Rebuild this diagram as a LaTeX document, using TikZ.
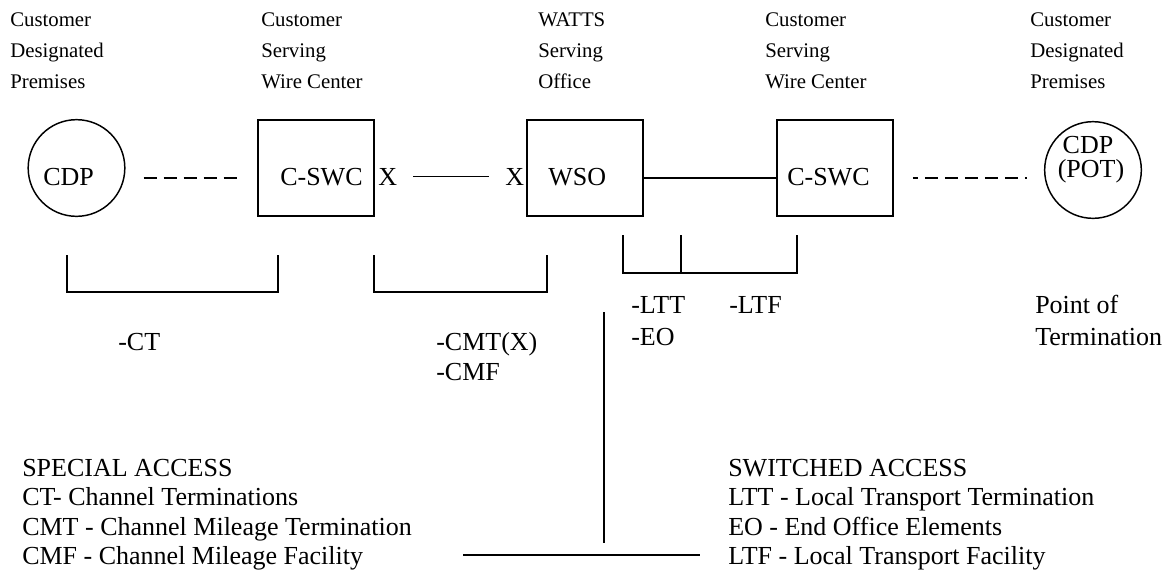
\documentclass[tikz,border=0pt]{standalone}
\usepackage{fontspec}
\setmainfont{Liberation Serif}
\begin{document}
\begin{tikzpicture}[x=0.75pt,y=-0.75pt,
  toplbl/.style={font=\fontsize{15.6}{23}\selectfont, anchor=base west, inner sep=0pt},
  txt/.style={font=\fontsize{19.5}{23}\selectfont, anchor=base west, inner sep=0pt},
  ctxt/.style={font=\fontsize{19.5}{23}\selectfont, anchor=base, inner sep=0pt},
  office/.style={draw, line width=1.3pt, minimum width=87pt, minimum height=72pt, inner sep=0pt},
  prem/.style={draw, circle, line width=1.1pt, minimum size=72.5pt, inner sep=0pt},
  wire/.style={line width=1.1pt},
  dashwire/.style={line width=1.1pt, dash pattern=on 9.75pt off 5.25pt},
  brk/.style={line width=1.3pt},
]
\useasboundingbox (0,0) rectangle (1164,576);

% top labels
\node[toplbl] (a1) at (10,26.7) {Customer};
\node[toplbl] (a2) at (10,57) {Designated};
\node[toplbl] (a3) at (10,88) {Premises};
\node[toplbl] (b1) at (261,26.7) {Customer};
\node[toplbl] (b2) at (261,57) {Serving};
\node[toplbl] (b3) at (261,88) {Wire Center};
\node[toplbl] (c1) at (538,26.7) {WATTS};
\node[toplbl] (c2) at (538,57) {Serving};
\node[toplbl] (c3) at (538,88) {Office};
\node[toplbl] (d1) at (765,26.7) {Customer};
\node[toplbl] (d2) at (765,57) {Serving};
\node[toplbl] (d3) at (765,88) {Wire Center};
\node[toplbl] (e1) at (1030,26.7) {Customer};
\node[toplbl] (e2) at (1030,57) {Designated};
\node[toplbl] (e3) at (1030,88) {Premises};

% shapes
\node[prem] (cdpL) at (76.5,168) {};
\node[office] (cswcL) at (316,168) {};
\node[office] (wso) at (585,168) {};
\node[office] (cswcR) at (835,168) {};
\node[prem] (cdpR) at (1093,170) {};

% texts in shapes
\node[txt] (tcdpL) at (43,185) {CDP};
\node[txt] (tcswcL) at (280,185) {C-SWC};
\node[txt] (xa) at (378,185) {X};
\node[txt] (xb) at (505,185) {X};
\node[txt] (twso) at (548,185) {WSO};
\node[txt] (tcswcR) at (787,185) {C-SWC};
\node[ctxt] (tcdpR) at (1088,153) {CDP};
\node[ctxt] (tpot) at (1091,177) {(POT)};

% connectors
\draw[dashwire] ([shift={(18,10)}]cdpL.east) -- ([shift={(-18,10)}]cswcL.west);
\draw[wire, shorten <=12pt, shorten >=12pt] (xa.east) -- (xb.west);
\draw[wire] ([yshift=-7.5pt]wso.east) -- ([yshift=-7.5pt]cswcR.west);
\draw[dashwire, dash phase=6pt] ([shift={(19,10)}]cswcR.east) -- ([shift={(-17,8)}]cdpR.west);

% brackets
\draw[brk] (67,255) |- (278,292) -- (278,255);
\draw[brk] (374,255) |- (547,292) -- (547,255);
\draw[brk] (623,235) |- (797,273) -- (797,235);
\draw[brk] (681,235) -- (681,273);

% bracket labels
\node[txt] (lct) at (118,350) {-CT};
\node[txt] (lcmt) at (436,350) {-CMT(X)};
\node[txt] (lcmf) at (436,380) {-CMF};
\node[txt] (lltt) at (631,313) {-LTT};
\node[txt] (leo) at (631,345) {-EO};
\node[txt] (lltf) at (729,313) {-LTF};
\node[txt] (lpt1) at (1035,313) {Point of};
\node[txt] (lpt2) at (1035,345) {Termination};

% divider lines
\draw[wire] (604,312) -- (604,543);
\draw[line width=1.5pt] (463,555) -- (700,555);

% legend
\node[txt] (s0) at (22,476) {SPECIAL ACCESS};
\node[txt] (s1) at (22,505) {CT- Channel Terminations};
\node[txt] (s2) at (22,535) {CMT - Channel Mileage Termination};
\node[txt] (s3) at (22,564) {CMF - Channel Mileage Facility};
\node[txt] (w0) at (728,476) {SWITCHED ACCESS};
\node[txt] (w1) at (728,505) {LTT - Local Transport Termination};
\node[txt] (w2) at (728,535) {EO - End Office Elements};
\node[txt] (w3) at (728,564) {LTF - Local Transport Facility};
\end{tikzpicture}
\end{document}
